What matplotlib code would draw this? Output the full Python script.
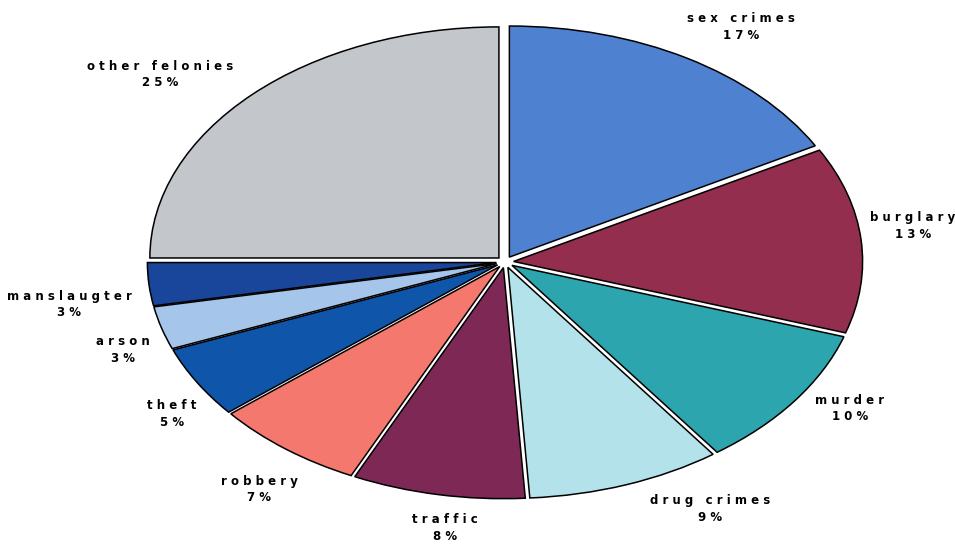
"""Share of felony cases by offence type, drawn as a stretched exploded pie."""
import numpy as np
import matplotlib.pyplot as plt

categories = ['sex crimes', 'burglary', 'murder', 'drug crimes', 'traffic',
              'robbery', 'theft', 'arson', 'manslaugter', 'other felonies']
shares = [17, 13, 10, 9, 8, 7, 5, 3, 3, 25]
colors = ['#4E82D0', '#932E4E', '#2DA5AF', '#B4E2EA', '#7D2855',
          '#F5786E', '#0F55AA', '#A6C5EA', '#19469B', '#C3C6CA']

# label placement: radial distance and small angular nudge per slice
label_dist = [1.19, 1.15, 1.145, 1.19, 1.135, 1.18, 1.13, 1.13, 1.23, 1.245]
label_shift = [-3, 2.2, 3.3, 9, 2.3, 2.2, 4, 3, 3, 5.6]


def spaced(s):
    # wide letter tracking like the printed chart
    return ' '.join(s)


fig = plt.figure(figsize=(9.55, 5.44), dpi=100)
ax = fig.add_axes([0, 0, 1, 1])

wedges, _ = ax.pie(shares, colors=colors, startangle=90, counterclock=False,
                   radius=0.975, explode=[0.024] * len(shares),
                   wedgeprops=dict(edgecolor='black', linewidth=1.1))

for w, name, val, d, sh in zip(wedges, categories, shares, label_dist, label_shift):
    mid = np.deg2rad((w.theta1 + w.theta2) / 2 + sh)
    ax.text(d * np.cos(mid), d * np.sin(mid),
            spaced(name) + '\n' + spaced(f'{val}%'),
            ha='center', va='center', fontsize=8.5, fontweight='bold',
            family='DejaVu Sans', linespacing=1.35)

# the pie is stretched horizontally, so drop the equal aspect
ax.set_aspect('auto')
ax.set_xlim(-505 / 358, 450 / 358)
ax.set_ylim(-282 / 237, 262 / 237)
ax.axis('off')

fig.savefig('out.png', dpi=100, facecolor='white')
